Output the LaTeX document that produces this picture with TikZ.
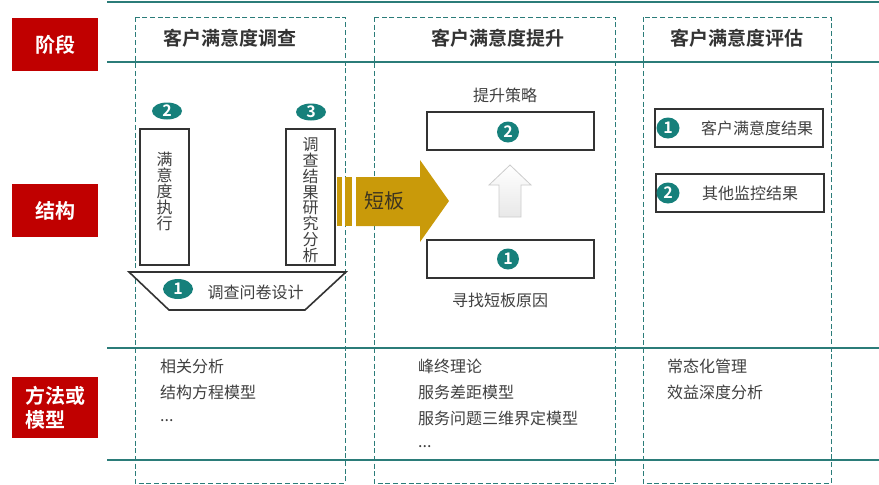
\documentclass[tikz,border=0pt]{standalone}
\usepackage{fontspec}
\setmainfont{Noto Sans CJK SC}[BoldFont={Noto Sans CJK SC Bold}]
\usetikzlibrary{shapes.geometric}
\definecolor{tealline}{HTML}{2B7C79}
\definecolor{tealc}{HTML}{16807B}
\definecolor{redl}{HTML}{C00000}
\definecolor{goldc}{HTML}{C99A0A}
\definecolor{txt}{HTML}{404040}
\definecolor{boxc}{HTML}{333333}
\definecolor{arrtxt}{HTML}{3C3420}
\tikzset{
  hline/.style={draw=tealline, line width=2.6pt},
  dashbox/.style={draw=tealline, line width=0.7pt, dash pattern=on 5pt off 2.7pt},
  redlab/.style={fill=redl, text=white, font=\fontsize{20}{25}\selectfont\bfseries, minimum width=86pt, inner sep=0pt},
  head/.style={text=boxc, font=\fontsize{19}{22}\selectfont\bfseries, inner sep=0pt},
  bbox/.style={draw=boxc, line width=1.8pt, inner sep=0pt},
  num/.style={ellipse, fill=tealc, text=white, inner sep=0pt, font=\fontsize{16}{16}\selectfont\bfseries},
  body/.style={text=txt, font=\fontsize{16}{18}\selectfont, inner sep=0pt},
  vtext/.style={text=txt, font=\fontsize{16}{16}\selectfont, align=center, inner sep=0pt},
  meth/.style={body, anchor=west, text height=12pt, text depth=3pt},
}
\begin{document}
\begin{tikzpicture}[x=1pt,y=-1pt]
\useasboundingbox[fill=white] (0,0) rectangle (879,485);
% horizontal lines
\draw[hline] (107,2) -- (879,2);
\draw[hline] (107,62) -- (879,62);
\draw[hline] (107,348) -- (879,348);
\draw[hline] (107,460) -- (879,460);
% dashed columns
\draw[dashbox] (135,17) rectangle (345,483);
\draw[dashbox] (374,17) rectangle (615,483);
\draw[dashbox] (643,17) rectangle (831,483);
% row labels
\node[redlab, minimum height=53pt] (l1) at (55,44.5) {阶段};
\node[redlab, minimum height=53pt] (l2) at (55,210.5) {结构};
\node[redlab, minimum height=61pt, align=left] (l3) at (55,407.5) {方法或\\[-1pt]模型};
% headers
\node[head] (h1) at (230,38) {客户满意度调查};
\node[head] (h2) at (498,38) {客户满意度提升};
\node[head] (h3) at (737,38) {客户满意度评估};
% column 1 structure
\node[bbox, minimum width=49pt, minimum height=136pt] (b2) at (164.5,197) {};
\node[vtext] (t2) at (164.5,191) {满\\意\\度\\执\\行};
\node[bbox, minimum width=49pt, minimum height=136pt] (b3) at (310.5,197) {};
\node[vtext, font=\fontsize{16}{15.8}\selectfont] (t3) at (310.5,200) {调\\查\\结\\果\\研\\究\\分\\析};
\node[num, minimum width=30pt, minimum height=17pt] (n2) at (167,111) {2};
\node[num, minimum width=30pt, minimum height=17pt] (n3) at (311,112) {3};
\draw[draw=boxc, line width=1.6pt, fill=white] (129,272) -- (346,272) -- (305,310) -- (169,310) -- cycle;
\node[num, minimum width=30pt, minimum height=20pt] (n1) at (178,289) {1};
\node[body] (t1) at (255.5,292) {调查问卷设计};
% gold arrow
\fill[goldc] (337,177) rectangle (342,226);
\fill[goldc] (345,177) rectangle (352,226);
\fill[goldc] (356,177) -- (420,177) -- (420,160) -- (449,201) -- (420,242) -- (420,226) -- (356,226) -- cycle;
\node[text=arrtxt, font=\fontsize{20}{20}\selectfont, inner sep=0pt] (dbt) at (384,201) {短板};
% column 2 structure
\node[body] (s2t) at (505,95) {提升策略};
\node[bbox, minimum width=167pt, minimum height=38pt] (s2) at (510.5,131) {};
\node[num, minimum width=22pt, minimum height=21pt] (s2n) at (508,132) {2};
\shade[top color=white, bottom color=gray!18, draw=gray!40, line width=0.8pt]
  (510,165) -- (531,185) -- (521,185) -- (521,217) -- (499,217) -- (499,185) -- (489,185) -- cycle;
\node[bbox, minimum width=167pt, minimum height=38pt] (s1) at (510.5,259) {};
\node[num, minimum width=22pt, minimum height=21pt] (s1n) at (508,259) {1};
\node[body] (s1t) at (500,300) {寻找短板原因};
% column 3 structure
\node[bbox, minimum width=168pt, minimum height=38pt] (e1) at (739,128) {};
\node[num, minimum width=23pt, minimum height=21pt] (e1n) at (668,128) {1};
\node[body] (e1t) at (757,128) {客户满意度结果};
\node[bbox, minimum width=168pt, minimum height=38pt] (e2) at (740,193) {};
\node[num, minimum width=23pt, minimum height=21pt] (e2n) at (668,193) {2};
\node[body] (e2t) at (750,193) {其他监控结果};
% methods
\node[meth] (m11) at (160,368) {相关分析};
\node[meth] (m12) at (160,394) {结构方程模型};
\node[meth] (m13) at (160,417) {...};
\node[meth] (m21) at (418,368) {峰终理论};
\node[meth] (m22) at (418,394) {服务差距模型};
\node[meth] (m23) at (418,420) {服务问题三维界定模型};
\node[meth] (m24) at (418,443) {...};
\node[meth] (m31) at (667,368) {常态化管理};
\node[meth] (m32) at (667,394) {效益深度分析};
\end{tikzpicture}
\end{document}
